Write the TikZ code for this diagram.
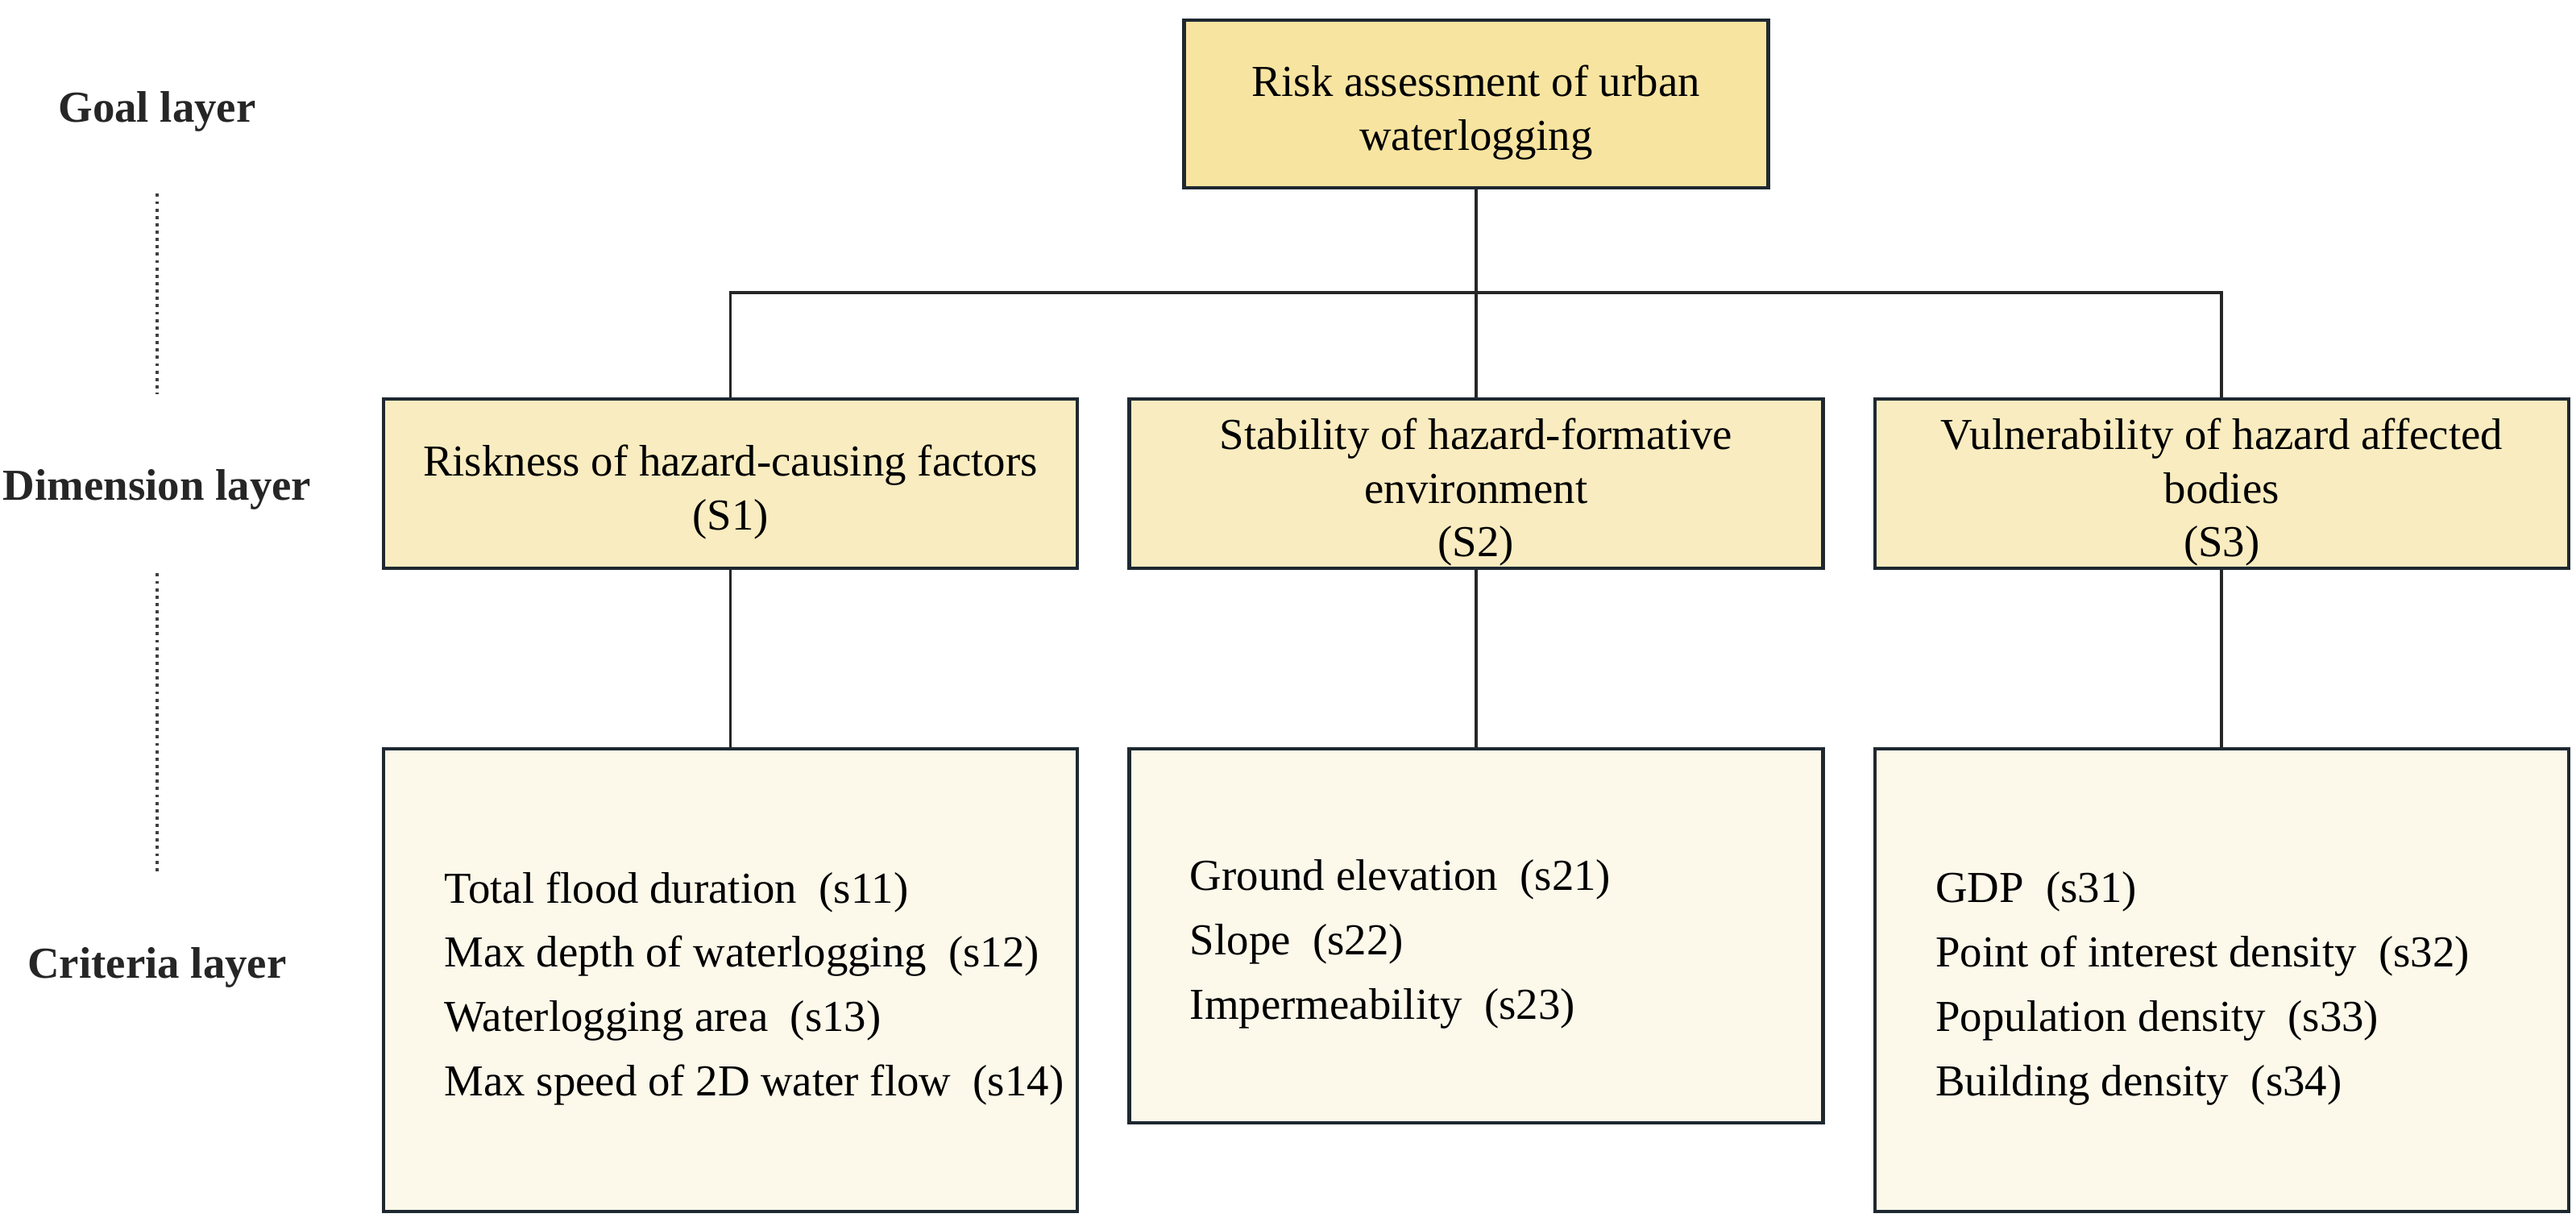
\documentclass[tikz,border=0pt]{standalone}
\usepackage{fontspec}
\setmainfont{Liberation Serif}
\usetikzlibrary{positioning}

\definecolor{goalfill}{HTML}{F7E4A0}
\definecolor{dimfill}{HTML}{F9ECC0}
\definecolor{critfill}{HTML}{FCF8EA}
\definecolor{edgecol}{HTML}{1E2830}
\definecolor{linecol}{HTML}{262626}

\newcommand{\topgap}{\rule{0pt}{17pt}}

\tikzset{
	box/.style={draw=edgecol, line width=1.25pt, align=center, inner sep=0pt,
		font=\fontsize{15.6pt}{19pt}\selectfont},
	goalbox/.style={box, fill=goalfill, minimum width=7.25cm, minimum height=2.08cm},
	dimbox/.style={box, fill=dimfill, minimum width=8.61cm, minimum height=2.10cm},
	critbox/.style={box, fill=critfill, minimum width=8.61cm},
	crittext/.style={align=left, anchor=west, inner sep=0pt,
		font=\fontsize{15.6pt}{22.7pt}\selectfont},
	layer/.style={font=\fontsize{15.6pt}{19pt}\selectfont\bfseries, text=black!85},
	link/.style={draw=linecol, line width=1.1pt},
	dotline/.style={draw=black!75, line width=1pt, dash pattern=on 1.1pt off 1.5pt}
}

\begin{document}
\begin{tikzpicture}
\useasboundingbox[fill=white] (0,0) rectangle (31.97,-15.20);

% layers
\node[layer] (l1) at (1.95,-1.38) {Goal layer};
\node[layer] (l2) at (1.95,-6.07) {Dimension layer};
\node[layer] (l3) at (1.95,-12.00) {Criteria layer};
\draw[dotline, shorten <=0.65cm, shorten >=0.81cm] (l1) -- (l2);
\draw[dotline, shorten <=0.67cm, shorten >=0.81cm] (l2) -- (l3);

% dimensions and goal
\node[dimbox] (d1) at (9.065,-6.00) {\topgap Riskness of hazard-causing factors\\(S1)};
\node[dimbox, right=0.60cm of d1] (d2) {\topgap Stability of hazard-formative\\environment\\(S2)};
\node[dimbox, right=0.60cm of d2] (d3) {\topgap Vulnerability of hazard affected\\bodies\\(S3)};
\node[goalbox] (g1) at (d2.north |- 0,-1.29) {\topgap Risk assessment of urban\\waterlogging};

% criteria
\node[critbox, minimum height=5.74cm, anchor=north] (c1) at (d1.south |- 0,-9.27) {};
\node[critbox, minimum height=4.64cm, anchor=north] (c2) at (d2.south |- 0,-9.27) {};
\node[critbox, minimum height=5.74cm, anchor=north] (c3) at (d3.south |- 0,-9.27) {};
\node[crittext] (t1) at ([xshift=0.77cm, yshift=-0.1cm]c1.west) {Total flood duration\ \ (s11)\\Max depth of waterlogging\ \ (s12)\\Waterlogging area\ \ (s13)\\Max speed of 2D water flow\ \ (s14)};
\node[crittext] (t2) at ([xshift=0.77cm, yshift=-0.1cm]c2.west) {Ground elevation\ \ (s21)\\Slope\ \ (s22)\\Impermeability\ \ (s23)};
\node[crittext] (t3) at ([xshift=0.77cm, yshift=-0.1cm]c3.west) {GDP\ \ (s31)\\Point of interest density\ \ (s32)\\Population density\ \ (s33)\\Building density\ \ (s34)};

% links
\coordinate (b) at (g1.south |- 0,-3.63);
\draw[link] (g1.south) -- (b);
\draw[link] (d1.north) -- (d1.north |- b) -- (d3.north |- b) -- (d3.north);
\draw[link] (b) -- (d2.north);
\draw[link] (d1.south) -- (c1.north);
\draw[link] (d2.south) -- (c2.north);
\draw[link] (d3.south) -- (c3.north);
\end{tikzpicture}
\end{document}
